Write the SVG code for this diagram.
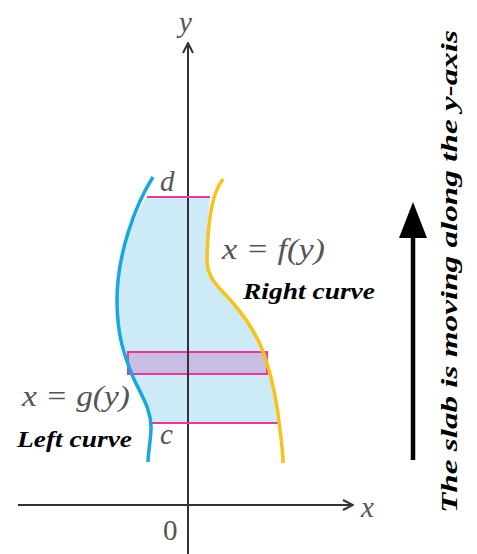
<svg xmlns="http://www.w3.org/2000/svg" width="477" height="554" viewBox="0 0 477 554">
<defs>
<style>
.ax{stroke:#333;stroke-width:2;fill:none}
.math{font-style:italic;fill:#555;font-size:29px}
.lbl{font-style:italic;font-weight:bold;fill:#000;font-size:24px}
.mag{stroke:#e8399b;stroke-width:2;fill:none}
</style>
<marker id="open" viewBox="0 0 12 12" refX="11" refY="6" markerWidth="12" markerHeight="12" markerUnits="userSpaceOnUse" orient="auto">
<path d="M1,1 L11,6 L1,11" fill="none" stroke="#333" stroke-width="2"/>
</marker>
</defs>
<rect width="477" height="554" fill="#fff"/>
<g id="region">
<path d="M147,197 L210,197 C208,215 207,235 207,260 C207,280 222,290 233,303 C250,323 260,340 266,360 C272,380 276,400 278,423 L151,423 C151,410 141,395 133,377 C124,355 117,335 117,300 C117,255 135,215 147,197 Z" fill="#cdeaf7"/>
</g>
<g id="slab">
<rect x="128" y="352" width="139" height="22" fill="#c8bde2" stroke="#e8399b" stroke-width="2"/>
</g>
<g id="connectors">
<line class="ax" x1="188" y1="554" x2="188" y2="43" marker-end="url(#open)"/>
<line class="ax" x1="18" y1="505" x2="353" y2="505" marker-end="url(#open)"/>
<line class="mag" x1="147" y1="197" x2="210" y2="197"/>
<line class="mag" x1="151" y1="423" x2="278" y2="423"/>
<line x1="413" y1="460" x2="413" y2="232" stroke="#000" stroke-width="4.5"/>
<polygon points="413,202 427,238 399,238" fill="#000"/>
</g>
<g font-family="Liberation Serif, serif">
<g id="left-curve">
<path d="M153,177 C135,205 117,255 117,300 C117,335 124,355 133,377 C141,395 152,410 151,430 C150,445 148,455 148,462" fill="none" stroke="#1aa7e0" stroke-width="3.5"/>
<text class="math" x="22" y="406" textLength="108" lengthAdjust="spacingAndGlyphs">x = g(y)</text>
<text class="lbl" x="17" y="447" textLength="115" lengthAdjust="spacingAndGlyphs">Left curve</text>
</g>
<g id="right-curve">
<path d="M223,179 C213,192 208,215 207,260 C207,280 222,290 233,303 C250,323 260,340 266,360 C274,385 278,410 280,430 C282,445 283,455 283,463" fill="none" stroke="#f7c21a" stroke-width="3.5"/>
<text class="math" x="222" y="259" textLength="103" lengthAdjust="spacingAndGlyphs">x = f(y)</text>
<text class="lbl" x="243" y="299" textLength="132" lengthAdjust="spacingAndGlyphs">Right curve</text>
</g>
<g id="labels">
<text class="math" x="160" y="191">d</text>
<text class="math" x="160" y="444">c</text>
<text class="math" x="179" y="32">y</text>
<text class="math" x="361" y="517">x</text>
<text class="math" style="font-style:normal" x="163" y="540">0</text>
<text class="lbl" style="font-size:23px" transform="translate(457,513) rotate(-90)" x="0" y="0" textLength="483" lengthAdjust="spacingAndGlyphs">The slab is moving along the y-axis</text>
</g>
</g>
</svg>
